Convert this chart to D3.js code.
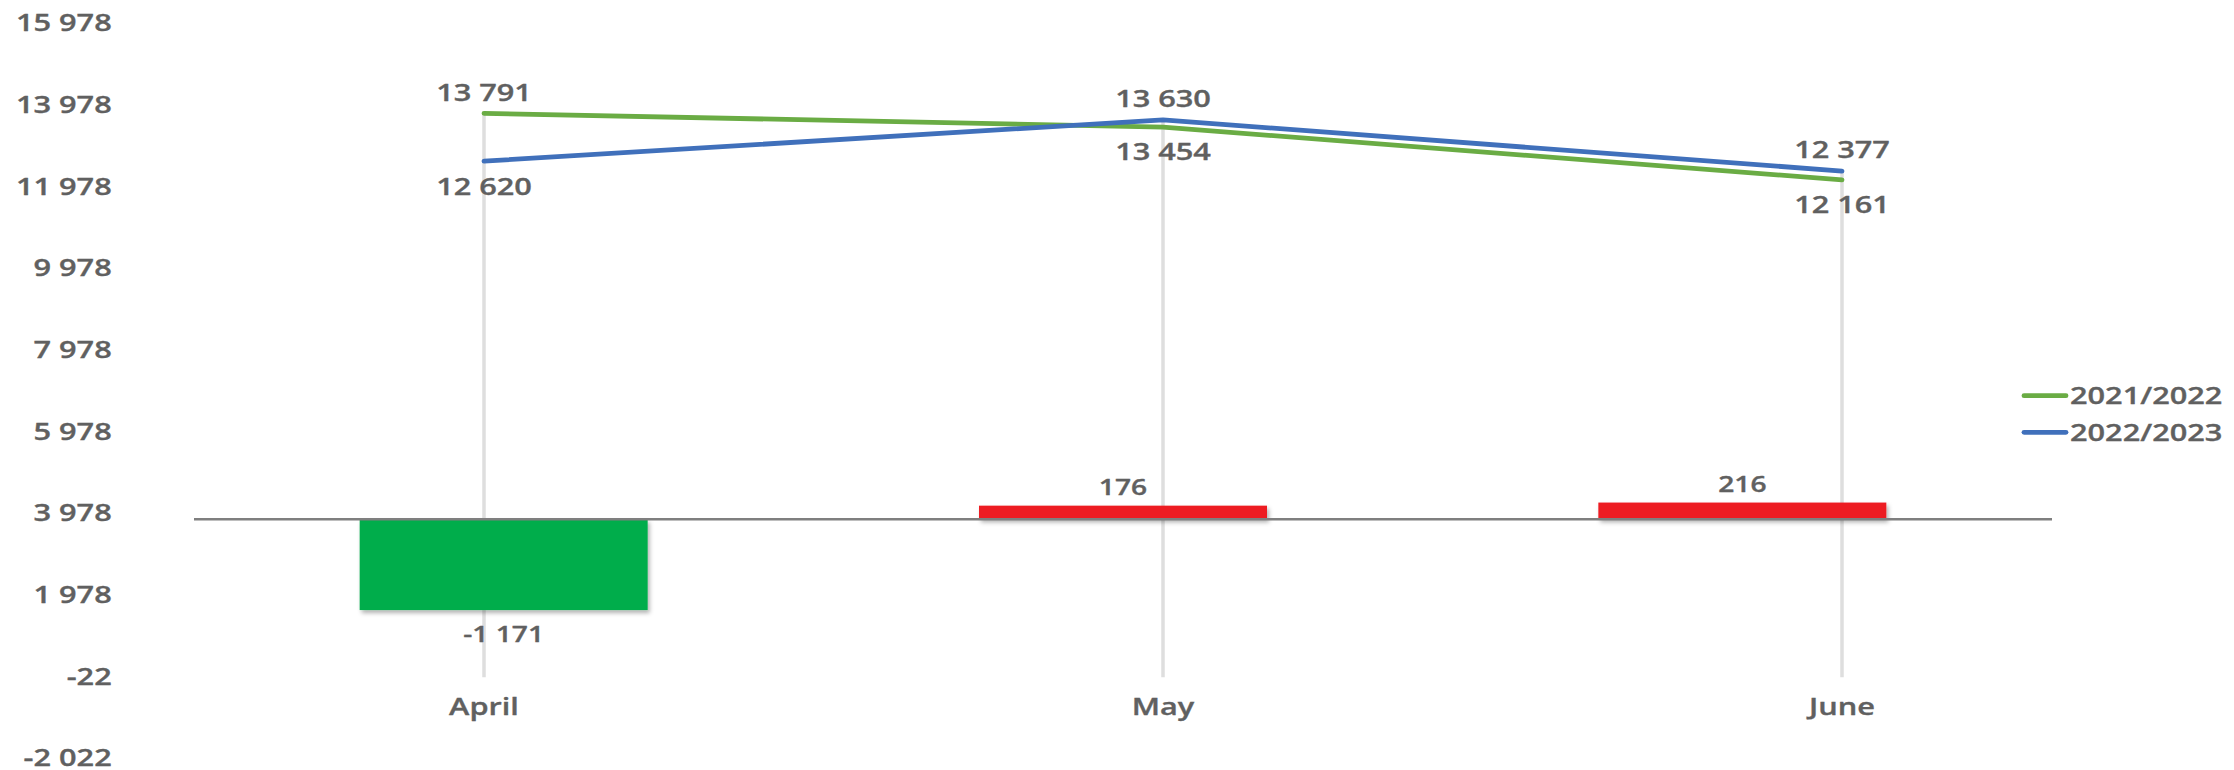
<!DOCTYPE html>
<html>
<head>
<meta charset="utf-8">
<script src="https://cdn.jsdelivr.net/npm/d3@7"></script>
<style>
  html, body { margin: 0; padding: 0; background: #ffffff; }
  svg { display: block; }
  text { font-family: "Open Sans", "Noto Sans", sans-serif; font-weight: 600; fill: #606060; stroke: #606060; stroke-width: 0.35px; }
</style>
</head>
<body>
<div id="chart"></div>
<script>
// ---- data ----
const categories = ["April", "May", "June"];
const seriesNames = ["2021/2022", "2022/2023"];
const values2021_2022 = [13791, 13454, 12161];
const values2022_2023 = [12620, 13630, 12377];
const diffValues = [-1171, 176, 216];
const yTickValues = [-2022, -22, 1978, 3978, 5978, 7978, 9978, 11978, 13978, 15978];
const seriesColors = ["#6aac44", "#4070bb"];

// ---- setup ----
const W = 2234, H = 770;
const SX = 1.28; // horizontal text stretch of the reference
const fmt = d3.formatLocale({ decimal: ",", thousands: " ", grouping: [3], currency: ["", ""], minus: "-" }).format(",d");

const svg = d3.select("#chart").append("svg").attr("width", W).attr("height", H);
const defs = svg.append("defs");
const f = defs.append("filter").attr("id", "shadow").attr("x", "-10%").attr("y", "-10%").attr("width", "130%").attr("height", "160%");
f.append("feDropShadow").attr("dx", 2).attr("dy", 3).attr("stdDeviation", 2).attr("flood-color", "#000").attr("flood-opacity", 0.3);

const xLine = d3.scalePoint().domain(categories).range([144.5, 2181.5]).padding(0.5);
const xBar = d3.scaleBand().domain(categories).range([194, 2052]).paddingInner(0.535).paddingOuter(0.2675);
const y = d3.scaleLinear().domain([-2022, 15978]).range([759, 24]);
const yBar = d3.scaleLinear().domain([0, 1000]).range([519.3, 441.8]);

function txt(x, yy, s, anchor, size) {
  return svg.append("text")
    .attr("transform", `translate(${x},${yy}) scale(${SX},1)`)
    .attr("text-anchor", anchor)
    .attr("dy", "0.35em")
    .style("font-size", (size || 24) + "px")
    .text(s);
}

// y tick labels
yTickValues.forEach(v => txt(111.7, y(v) - 1, fmt(v), "end"));

// drop lines
const series = [values2021_2022, values2022_2023];
categories.forEach((c, i) => {
  const top = d3.max(series, s => s[i]);
  svg.append("line")
    .attr("x1", xLine(c)).attr("x2", xLine(c))
    .attr("y1", y(top)).attr("y2", y(-22))
    .attr("stroke", "#dedede").attr("stroke-width", 3.5);
});

// bars
categories.forEach((c, i) => {
  const v = diffValues[i];
  svg.append("rect")
    .attr("x", xBar(c))
    .attr("width", xBar.bandwidth())
    .attr("y", Math.min(yBar(0), yBar(v)))
    .attr("height", Math.abs(yBar(v) - yBar(0)))
    .attr("fill", v < 0 ? "#00ad4c" : "#ed1c24")
    .attr("filter", "url(#shadow)");
});

// baseline
svg.append("line")
  .attr("x1", xBar.range()[0]).attr("x2", xBar.range()[1])
  .attr("y1", yBar(0)).attr("y2", yBar(0))
  .attr("stroke", "#7f7f7f").attr("stroke-width", 2.5);

// bar labels
categories.forEach((c, i) => {
  const v = diffValues[i];
  const cx = xBar(c) + xBar.bandwidth() / 2;
  txt(cx, v < 0 ? yBar(v) + 24 : yBar(v) - 18, fmt(v), "middle", 22);
});

// lines
const line = d3.line().x((d, i) => xLine(categories[i])).y(d => y(d));
series.forEach((s, k) => {
  svg.append("path").datum(s)
    .attr("d", line)
    .attr("fill", "none")
    .attr("stroke", seriesColors[k])
    .attr("stroke-width", 4.8)
    .attr("stroke-linecap", "round")
    .attr("stroke-linejoin", "round");
});

// line labels
categories.forEach((c, i) => {
  const a = values2021_2022[i], b = values2022_2023[i];
  const hi = Math.max(a, b), lo = Math.min(a, b);
  txt(xLine(c), y(hi) - 21, fmt(hi), "middle");
  txt(xLine(c), y(lo) + 25, fmt(lo), "middle");
});

// category labels
categories.forEach(c => txt(xLine(c), y(-22) + 29.5, c, "middle"));

// legend
const legendY = [395.7, 432.3];
seriesNames.forEach((n, k) => {
  svg.append("line")
    .attr("x1", 2024).attr("x2", 2066)
    .attr("y1", legendY[k]).attr("y2", legendY[k])
    .attr("stroke", seriesColors[k]).attr("stroke-width", 4.8)
    .attr("stroke-linecap", "round");
  txt(2070, legendY[k], n, "start");
});
</script>
</body>
</html>
